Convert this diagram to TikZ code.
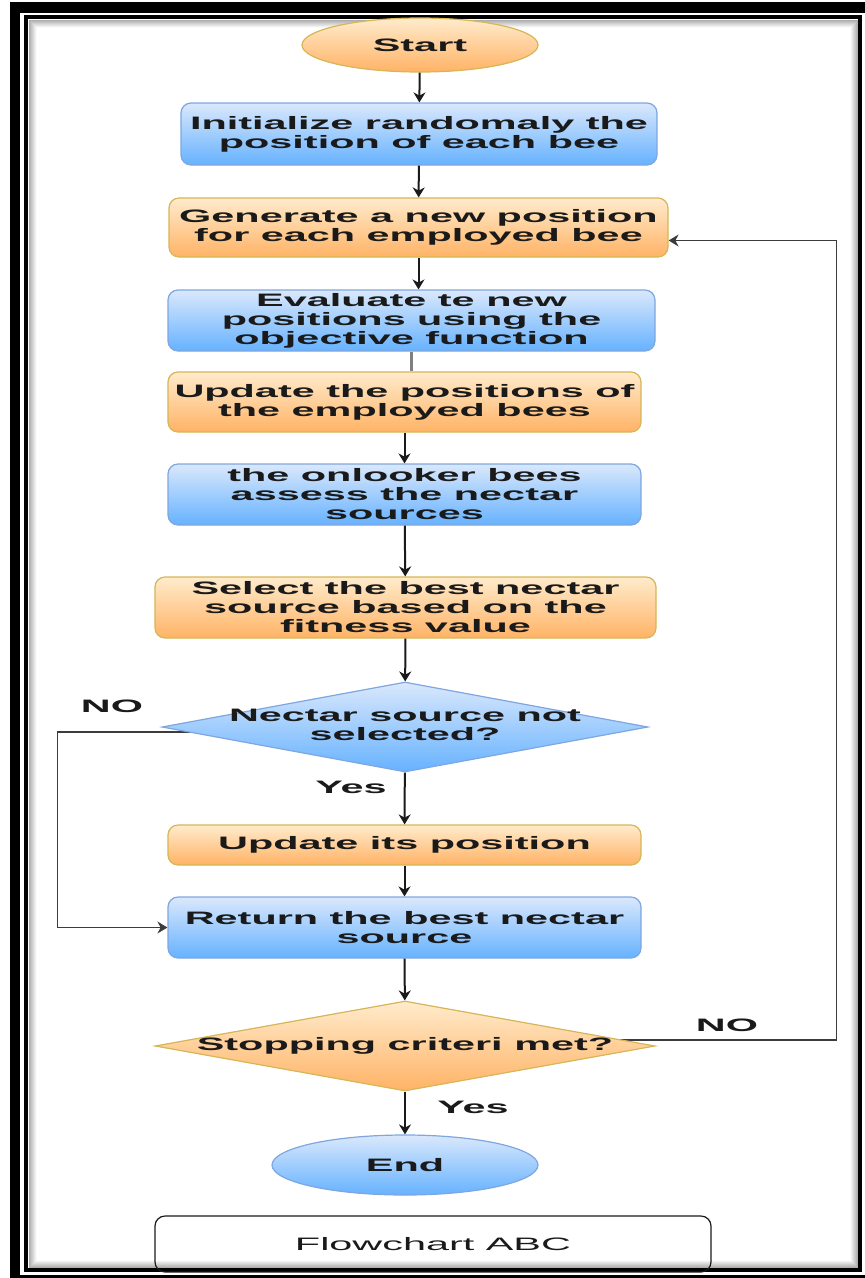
\documentclass[tikz,border=0pt]{standalone}
\usepackage{fontspec}
\newfontfamily\flowfont[FakeStretch=2.3]{Liberation Sans}
\usetikzlibrary{shapes.geometric,arrows.meta,backgrounds}
\definecolor{ornTop}{HTML}{FFEBCC}
\definecolor{ornBot}{HTML}{FFB366}
\definecolor{ornEdge}{HTML}{D6B656}
\definecolor{bluTop}{HTML}{DAE8FC}
\definecolor{bluBot}{HTML}{66B2FF}
\definecolor{bluEdge}{HTML}{7EA6E0}
\definecolor{ink}{HTML}{1A1A1A}
\begin{document}
\begin{tikzpicture}[x=1pt,y=-1pt,
  txt/.style={font=\flowfont\bfseries\fontsize{18}{19}\selectfont, text=ink, align=center, inner sep=0pt},
  orangefill/.style={top color=ornTop, bottom color=ornBot, draw=ornEdge, line width=1.2pt},
  bluefill/.style={top color=bluTop, bottom color=bluBot, draw=bluEdge, line width=1.2pt},
  procbox/.style={txt, rectangle, rounded corners=10pt},
  oval/.style={txt, ellipse},
  decision/.style={diamond, inner sep=0pt},
  arr/.style={line width=2pt, draw=ink, -{Stealth[length=10pt,width=12pt]}},
  back/.style={line width=1.4pt, draw=ink!85, -{Stealth[length=10pt,width=12pt]}},
  tag/.style={txt},
  captionbox/.style={font=\flowfont\fontsize{18}{19}\selectfont, text=ink, align=center, inner sep=0pt,
    draw=ink, line width=1.2pt, rounded corners=10pt}
]
\useasboundingbox (0,0) rectangle (865,1278);

% page frame: heavy outer band and inner line with soft inner shadow
\fill[black] (10,2) rectangle (865,13);
\fill[black] (10,2) rectangle (20,1278);
\fill[black] (10,1275) rectangle (865,1278);
\draw[line width=4pt] (26,17) rectangle (860,1270);
\foreach \i in {1,...,8} {
  \pgfmathsetmacro\sh{36-4.3*\i}
  \draw[line width=1pt, black!\sh] (28+\i,19+\i) rectangle (858-\i,1268-\i);
}

% flow steps
\node[oval, orangefill, minimum width=236pt, minimum height=54pt] (start) at (420,45) {Start};
\node[procbox, bluefill, minimum width=476pt, minimum height=62pt] (init) at (419,134)
  {Initialize randomaly the\\position of each bee};
\node[procbox, orangefill, minimum width=499pt, minimum height=59pt] (gen) at (418.5,227.5)
  {Generate a new position\\for each employed bee};
\node[procbox, bluefill, minimum width=487pt, minimum height=61pt] (eval) at (411.5,320.5)
  {Evaluate te new\\positions using the\\objective function};
\node[procbox, orangefill, minimum width=473pt, minimum height=60pt] (upd) at (404.5,402)
  {Update the positions of\\the employed bees};
\node[procbox, bluefill, minimum width=473pt, minimum height=61pt] (onl) at (404.5,494.5)
  {the onlooker bees\\assess the nectar\\sources};
\node[procbox, orangefill, minimum width=501pt, minimum height=61pt] (sel) at (405.5,607.5)
  {Select the best nectar\\source based on the\\fitness value};
\node[decision, bluefill, minimum width=486pt, minimum height=90pt] (d1) at (405,727) {};
\node[txt] (d1text) at (405,725) {Nectar source not\\selected?};
\node[procbox, orangefill, minimum width=473pt, minimum height=40pt] (updits) at (404.5,845)
  {Update its position};
\node[procbox, bluefill, minimum width=473pt, minimum height=61pt] (ret) at (404.5,927.5)
  {Return the best nectar\\source};
\node[decision, orangefill, minimum width=500pt, minimum height=90pt] (d2) at (405,1046) {};
\node[txt] (d2text) at (405,1046) {Stopping criteri met?};
\node[oval, bluefill, minimum width=266pt, minimum height=60pt] (end) at (405,1165) {End};

\node[captionbox, minimum width=556pt, minimum height=56pt] (cap) at (433,1244) {Flowchart ABC};

% branch labels
\node[tag] (no1) at (112,706) {NO};
\node[tag] (yes1) at (351,787) {Yes};
\node[tag] (no2) at (727,1025) {NO};
\node[tag] (yes2) at (473,1107) {Yes};

% main connectors
\draw[arr] (start) -- (init);
\draw[arr] (init) -- (gen);
\draw[arr] (gen.south) -- (gen.south |- eval.north);
\draw[line width=3pt, gray] (eval.south) -- (eval.south |- upd.north);
\draw[arr] (upd) -- (onl);
\draw[arr] (onl) -- (sel);
\draw[arr] (sel) -- (d1);
\draw[arr] (d1) -- (updits);
\draw[arr] (updits) -- (ret);
\draw[arr] (ret) -- (d2);
\draw[arr] (d2) -- (end);

% loop-back connectors, passing behind the decision shapes
\begin{scope}[on background layer]
\draw[back] ([yshift=6pt]d2.center) -| ([xshift=168pt,yshift=-13pt]gen.east) -- ([yshift=-13pt]gen.east);
\draw[back] ([yshift=-5pt]d1.center) -| ([xshift=-110pt]ret.west) -- (ret.west);
\end{scope}
\end{tikzpicture}
\end{document}
